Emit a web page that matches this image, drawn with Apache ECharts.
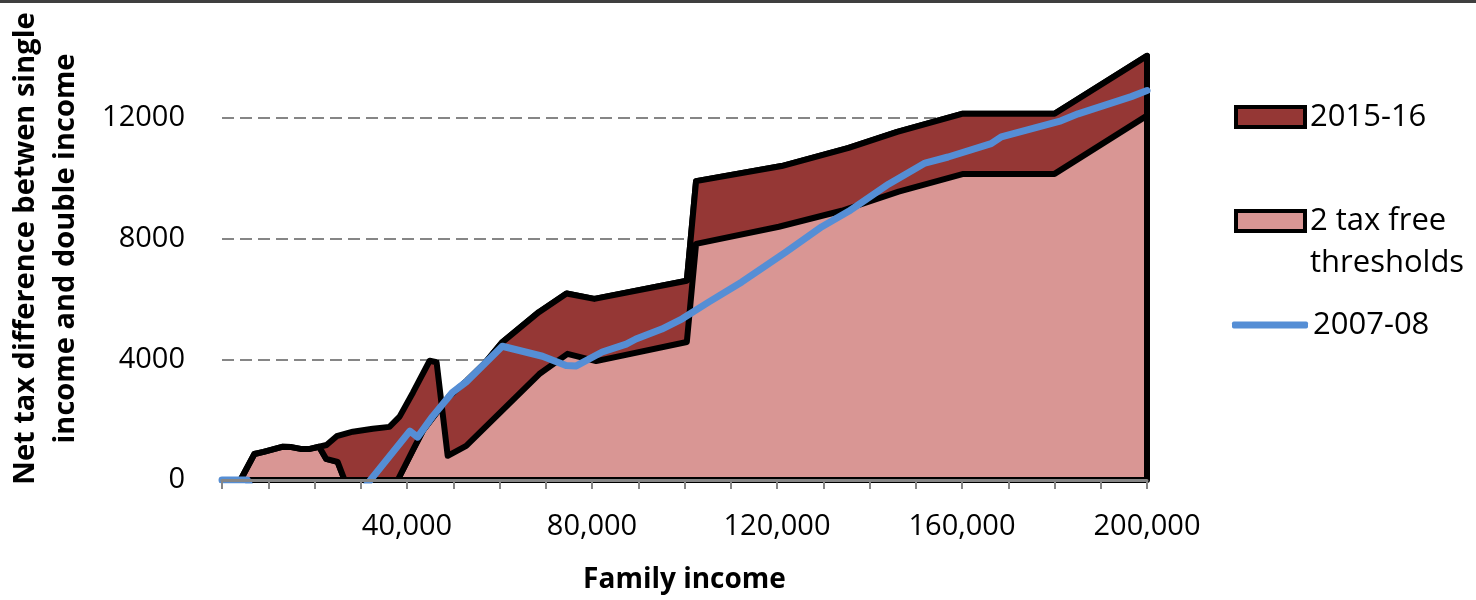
<!DOCTYPE html>
<html>
<head>
<meta charset="utf-8">
<script src="https://cdn.jsdelivr.net/npm/echarts@6/dist/echarts.min.js"></script>
<style>
html,body{margin:0;padding:0;background:#ffffff;}
#chart{width:1476px;height:600px;}
</style>
</head>
<body>
<div id="chart"></div>
<script>
// ---- Data ----
// "2 tax free thresholds" (pink area, outline)
const thresholdIncome = [0, 4000, 7000, 9000, 13000, 15000, 17000, 19000, 21000, 22500, 25000, 26500, 38000, 41300, 43500, 49000, 53000, 57000, 60500, 68500, 74500, 80500, 100500, 102500, 121000, 135500, 146000, 160000, 180000, 200000];
const thresholdValues = [0, 0, 860, 930, 1100, 1090, 1030, 1030, 1100, 700, 600, 0, 0, 1000, 1650, 2750, 3300, 3900, 4550, 5560, 6180, 6000, 6600, 9900, 10400, 11000, 11530, 12130, 12130, 14050];

// "2015-16" (dark red band between the two outlines)
const income2015 = [0, 4000, 7000, 9000, 13000, 15000, 17000, 19000, 21000, 22600, 24800, 28300, 32600, 36200, 38400, 41300, 44900, 46400, 48800, 52800, 68600, 74700, 80900, 100500, 102500, 120400, 134000, 146300, 160300, 180000, 200000];
const values2015 = [0, 0, 860, 930, 1100, 1090, 1030, 1030, 1100, 1160, 1450, 1600, 1700, 1760, 2100, 2900, 3950, 3900, 800, 1130, 3510, 4180, 3940, 4570, 7820, 8390, 8920, 9550, 10140, 10140, 12070];

// "2007-08" (blue line; values below zero are clipped by the axis)
const income2007 = [0, 5500, 8000, 30000, 40600, 42300, 45500, 49800, 52800, 60600, 69300, 74400, 76600, 82200, 87400, 89500, 95100, 99500, 105300, 112400, 121900, 129700, 135500, 144100, 152000, 157000, 166300, 168500, 181400, 185100, 196600, 200000];
const values2007 = [0, 0, -900, -400, 1620, 1420, 2100, 2900, 3250, 4430, 4100, 3790, 3780, 4240, 4500, 4670, 5000, 5340, 5900, 6560, 7550, 8390, 8900, 9800, 10500, 10700, 11140, 11370, 11900, 12130, 12700, 12900];

// Tick labels
const yTickLabels = [0, 4000, 8000, 12000];
const xTickLabels = [40000, 80000, 120000, 160000, 200000];

const seriesNames = ['2015-16', '2 tax free thresholds', '2007-08'];

// ---- Chart ----
const FONT = "'Open Sans', 'Liberation Sans', sans-serif";
const pairs = (xs, ys) => xs.map((x, i) => [x, ys[i]]);
const withCommas = v => String(v).replace(/\B(?=(\d{3})+(?!\d))/g, ',');

const chart = echarts.init(document.getElementById('chart'), null, {renderer: 'canvas'});

const option = {
  backgroundColor: '#ffffff',
  animation: false,
  textStyle: {fontFamily: FONT},
  graphic: [{
    type: 'rect', left: 0, top: 0, z: 100,
    shape: {width: 1476, height: 3},
    style: {fill: '#3f3f3f'}
  }],
  grid: {left: 222, right: 329, top: -3, bottom: 120, containLabel: false, outerBoundsMode: 'none'},
  xAxis: {
    type: 'value', min: 0, max: 200000, interval: 10000, z: 10,
    name: 'Family income', nameLocation: 'middle', nameGap: 86,
    nameTextStyle: {fontFamily: FONT, fontWeight: 'bold', fontSize: 28, color: '#000'},
    axisLine: {show: true, onZero: false, lineStyle: {color: '#868686', width: 3}},
    axisTick: {show: true, length: 9, lineStyle: {color: '#868686', width: 2}},
    splitLine: {show: false},
    axisLabel: {
      fontFamily: FONT, fontSize: 29, color: '#000', margin: 32, hideOverlap: false,
      formatter: v => xTickLabels.indexOf(v) >= 0 ? withCommas(v) : ''
    }
  },
  yAxis: {
    type: 'value', min: 0, max: 16000, interval: 4000,
    name: 'Net tax difference betwen single\nincome and double income',
    nameLocation: 'middle', nameGap: 176,
    nameTextStyle: {fontFamily: FONT, fontWeight: 'bold', fontSize: 29, lineHeight: 40, color: '#000', verticalAlign: 'middle', padding: [0, 20, 0, 0]},
    axisLine: {show: false},
    axisTick: {show: false},
    splitLine: {show: true, showMinLine: false, showMaxLine: false, lineStyle: {color: '#868686', width: 2, type: [12, 6]}},
    axisLabel: {
      fontFamily: FONT, fontSize: 29, color: '#000', margin: 37,
      formatter: v => yTickLabels.indexOf(v) >= 0 ? String(v) : ''
    }
  },
  legend: [
    {
      data: [{name: seriesNames[0], icon: 'rect', itemStyle: {color: '#953735', borderColor: '#000', borderWidth: 4}}],
      orient: 'vertical', left: 1229, top: 91, itemWidth: 69, itemHeight: 20, selectedMode: false,
      textStyle: {fontFamily: FONT, fontSize: 31, color: '#000', lineHeight: 42}
    },
    {
      data: [{name: seriesNames[1], icon: 'rect', itemStyle: {color: '#D99694', borderColor: '#000', borderWidth: 4}}],
      orient: 'vertical', left: 1229, top: 153, itemWidth: 69, itemHeight: 20, selectedMode: false,
      formatter: () => ' \n2 tax free\nthresholds',
      textStyle: {fontFamily: FONT, fontSize: 31, color: '#000', lineHeight: 42}
    },
    {
      data: [{name: seriesNames[2], icon: 'roundRect', itemStyle: {color: '#558ED5', borderWidth: 0}}],
      orient: 'vertical', left: 1227, top: 299, itemWidth: 76, itemHeight: 7, selectedMode: false,
      textStyle: {fontFamily: FONT, fontSize: 31, color: '#000', lineHeight: 42}
    }
  ],
  series: [
    {
      name: seriesNames[1],
      type: 'custom',
      z: 2,
      itemStyle: {color: '#D99694'},
      encode: {x: 0, y: 1},
      data: pairs(thresholdIncome, thresholdValues),
      renderItem: function (params, api) {
        if (params.dataIndex !== 0) return null;
        const pts = thresholdIncome.map((x, i) => api.coord([x, thresholdValues[i]]));
        pts.push(api.coord([thresholdIncome[thresholdIncome.length - 1], 0]));
        pts.push(api.coord([thresholdIncome[0], 0]));
        return {
          type: 'polygon',
          shape: {points: pts},
          style: {fill: '#D99694', stroke: '#000000', lineWidth: 6, lineJoin: 'round'}
        };
      }
    },
    {
      name: seriesNames[0],
      type: 'custom',
      z: 3,
      itemStyle: {color: '#953735'},
      encode: {x: 0, y: 1},
      data: pairs(income2015, values2015),
      renderItem: function (params, api) {
        if (params.dataIndex !== 0) return null;
        const pts = income2015.map((x, i) => api.coord([x, values2015[i]]));
        for (let i = thresholdIncome.length - 1; i >= 0; i--) {
          pts.push(api.coord([thresholdIncome[i], thresholdValues[i]]));
        }
        return {
          type: 'polygon',
          shape: {points: pts},
          style: {fill: '#953735', stroke: '#000000', lineWidth: 6, lineJoin: 'round'}
        };
      }
    },
    {
      name: seriesNames[2],
      type: 'line',
      z: 4,
      color: '#558ED5',
      symbol: 'none',
      clip: true,
      data: pairs(income2007, values2007),
      lineStyle: {color: '#558ED5', width: 7, join: 'round', cap: 'round'}
    }
  ]
};

chart.setOption(option);
</script>
</body>
</html>
